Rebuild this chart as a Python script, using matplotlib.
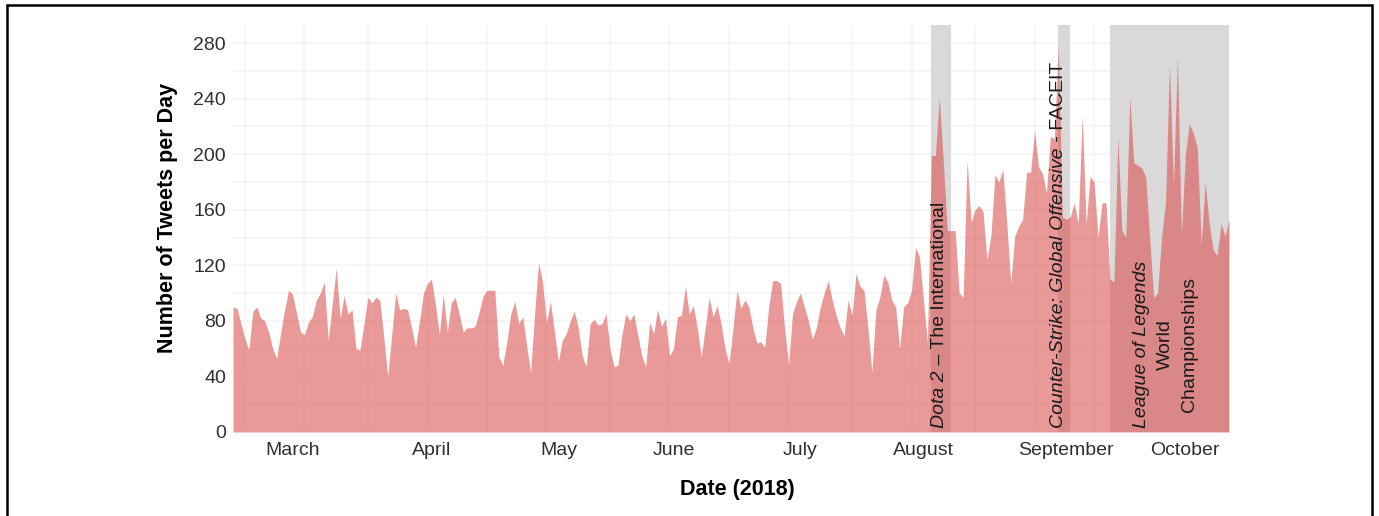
import matplotlib.pyplot as plt
import matplotlib.dates as mdates
from matplotlib.patches import Rectangle
from matplotlib.transforms import offset_copy
import pandas as pd

plt.rcParams['font.family'] = ['Liberation Sans', 'DejaVu Sans']

# daily tweet counts (starting 2018-02-26)
start_date = "2018-02-26"
tweets = [
    90, 89, 78, 67, 59, 87, 90, 82, 80, 72,
    60, 53, 71, 88, 102, 99, 86, 72, 70, 79,
    83, 95, 100, 108, 66, 92, 118, 82, 98, 85,
    88, 60, 59, 78, 97, 93, 97, 95, 68, 40,
    70, 100, 88, 89, 88, 75, 61, 80, 100, 107,
    110, 92, 70, 99, 72, 93, 97, 85, 72, 75,
    75, 76, 86, 98, 102, 102, 102, 54, 48, 65,
    85, 94, 78, 83, 62, 43, 85, 122, 108, 79,
    94, 72, 51, 66, 71, 80, 87, 75, 55, 47,
    78, 81, 77, 78, 85, 60, 47, 48, 70, 85,
    80, 85, 70, 55, 47, 79, 71, 88, 76, 82,
    55, 60, 83, 84, 105, 85, 91, 75, 54, 75,
    97, 83, 91, 78, 60, 49, 75, 102, 89, 95,
    90, 75, 64, 65, 61, 90, 109, 109, 107, 75,
    48, 85, 94, 100, 90, 80, 67, 75, 90, 100,
    109, 95, 84, 75, 69, 95, 84, 114, 105, 102,
    75, 43, 88, 97, 113, 108, 95, 90, 60, 90,
    93, 102, 133, 126, 95, 64, 199, 199, 241, 195,
    145, 145, 145, 100, 97, 196, 151, 160, 163, 159,
    124, 141, 185, 180, 189, 150, 107, 141, 148, 153,
    187, 187, 217, 191, 186, 172, 213, 211, 279, 155,
    153, 155, 165, 150, 228, 150, 184, 180, 140, 165,
    165, 110, 108, 212, 145, 140, 241, 194, 192, 190,
    184, 140, 97, 100, 140, 165, 265, 177, 270, 141,
    200, 222, 215, 205, 135, 180, 150, 131, 127, 150,
    141, 153,
]
dates = pd.date_range(start_date, periods=len(tweets), freq="D")

# tournament periods (shaded)
event_starts = ["2018-08-21", "2018-09-22", "2018-10-05"]
event_ends = ["2018-08-26", "2018-09-25", "2018-11-04"]

month_names = ["March", "April", "May", "June", "July", "August", "September", "October"]
month_label_dates = ["2018-03-13", "2018-04-17", "2018-05-19", "2018-06-17",
                     "2018-07-19", "2018-08-19", "2018-09-24", "2018-10-24"]

fig = plt.figure(figsize=(13.79, 5.16), dpi=100)
ax = fig.add_axes([233 / 1379, 1 - 432 / 516, 996 / 1379, 407 / 516])

for s, e in zip(event_starts, event_ends):
    ax.axvspan(pd.Timestamp(s), pd.Timestamp(e), color="#d9d9d9", lw=0, zorder=1)

ax.fill_between(dates, tweets, 0, color="#d94545", alpha=0.55, lw=0, zorder=2)

ax.set_xlim(dates[0], dates[-1])
ax.set_ylim(0, 293)

ax.set_yticks(range(0, 281, 40))
ax.set_yticks(range(20, 281, 40), minor=True)
ax.set_xticks(pd.to_datetime(month_label_dates))
ax.set_xticklabels(month_names)
ax.xaxis.set_minor_locator(mdates.MonthLocator(bymonthday=[1, 16]))

ax.grid(which="both", axis="y", color="#f5f5f5", lw=1.2, zorder=0)
ax.grid(which="minor", axis="x", color="#f5f5f5", lw=1.2, zorder=0)
ax.set_axisbelow(True)
for sp in ax.spines.values():
    sp.set_visible(False)
ax.tick_params(which="both", length=0, labelsize=14, colors="#303030")
ax.tick_params(axis="x", pad=7)
ax.tick_params(axis="y", pad=5)

fig.text(167 / 1379, 1 - 218 / 516, "Number of Tweets per Day", rotation=90,
         ha="center", va="center", fontsize=15.5, fontweight="bold")
fig.text(737 / 1379, 1 - 489 / 516, "Date (2018)", ha="center", va="center",
         fontsize=15.5, fontweight="bold")

# annotations, italic game name then plain text
fig.canvas.draw()
renderer = fig.canvas.get_renderer()

def label(x, first, rest):
    t1 = ax.text(pd.Timestamp(x), 3, first, rotation=90, style="italic",
                 ha="center", va="bottom", fontsize=14, color="#1a1a1a", zorder=5)
    h = t1.get_window_extent(renderer).height
    tr = offset_copy(ax.transData, fig=fig, x=0, y=h, units="dots")
    ax.text(pd.Timestamp(x), 3, rest, rotation=90, ha="center", va="bottom",
            fontsize=14, color="#1a1a1a", transform=tr, zorder=5)

label("2018-08-23", "Dota 2", " \u2013 The International")
label("2018-09-22", "Counter-Strike: Global Offensive", " - FACEIT")

ax.text(pd.Timestamp("2018-10-13"), 63, "League of Legends", rotation=90, style="italic",
        ha="center", va="center", fontsize=14, color="#1a1a1a", zorder=5)
ax.text(pd.Timestamp("2018-10-19"), 63, "World", rotation=90,
        ha="center", va="center", fontsize=14, color="#1a1a1a", zorder=5)
ax.text(pd.Timestamp("2018-10-25"), 63, "Championships", rotation=90,
        ha="center", va="center", fontsize=14, color="#1a1a1a", zorder=5)

# frame round the figure
fig.patches.append(Rectangle((7 / 1379, -0.1), 1365 / 1379, 1.1 - 5 / 516,
                             transform=fig.transFigure, fill=False, ec="black", lw=1.8))

fig.savefig("out.png", dpi=100)
